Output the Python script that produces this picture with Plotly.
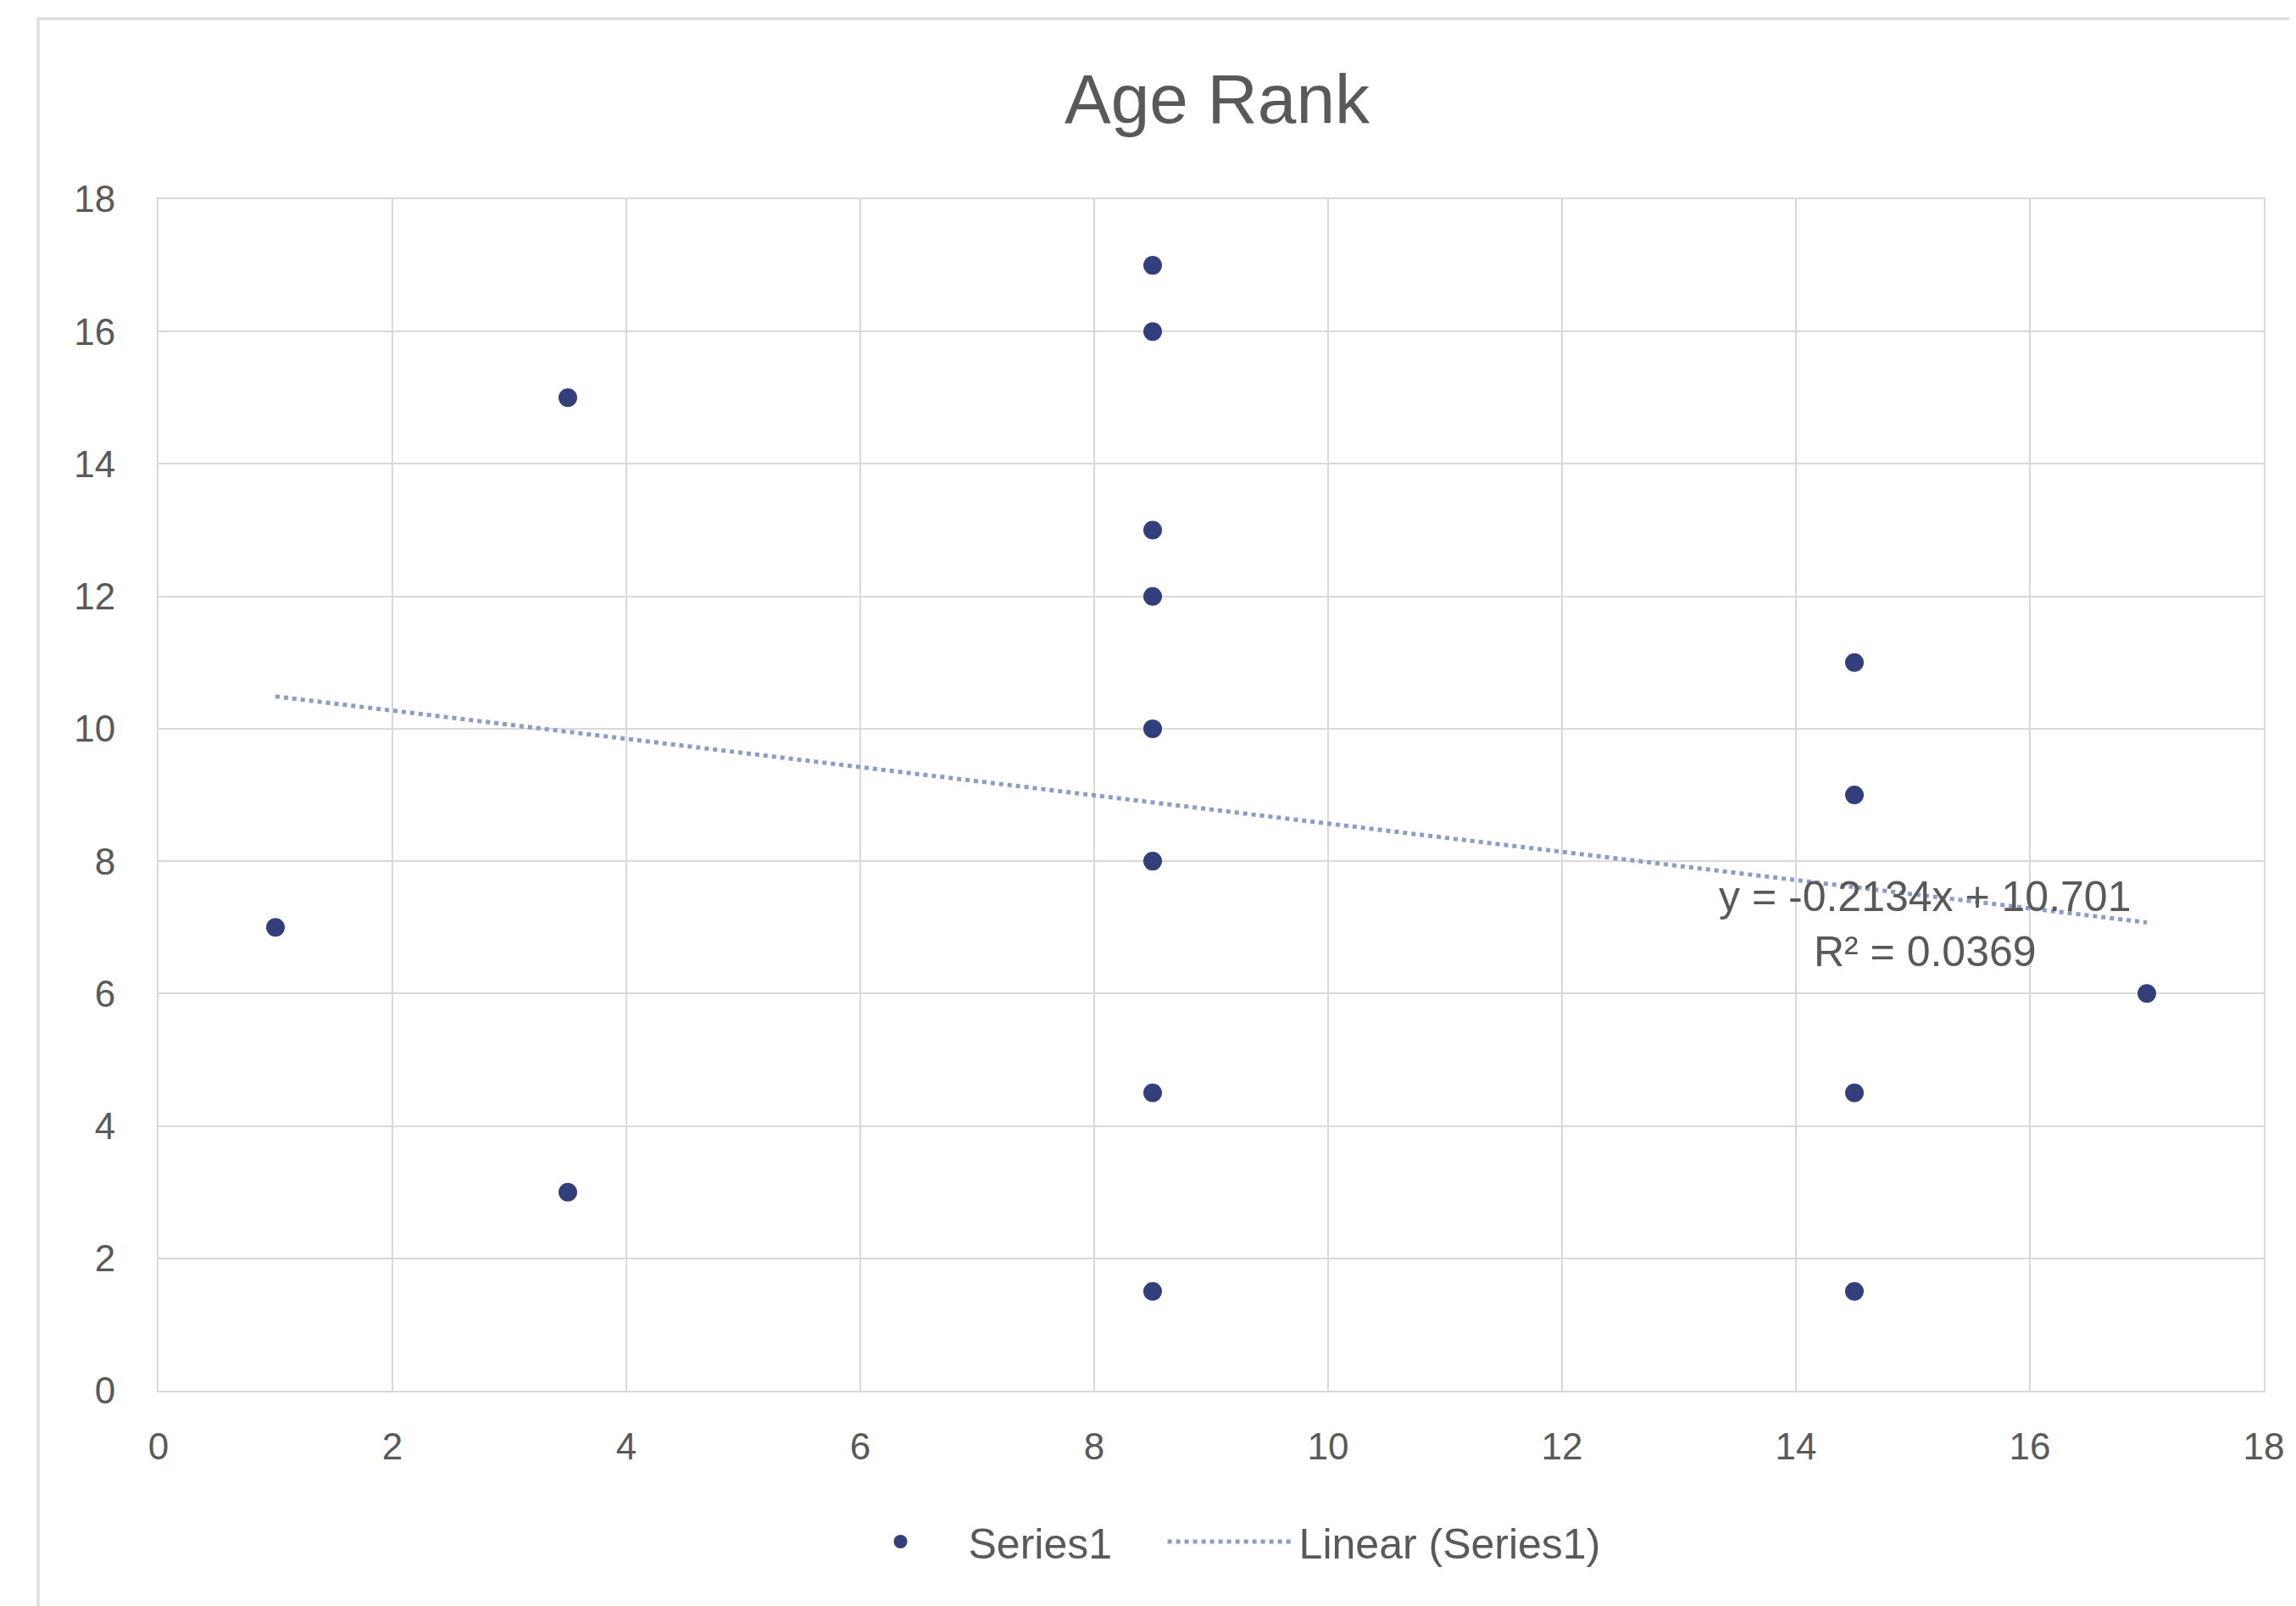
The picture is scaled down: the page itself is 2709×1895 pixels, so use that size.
import numpy as np
import plotly.graph_objects as go

# ---- data ----
x_rank = [1, 3.5, 3.5, 8.5, 8.5, 8.5, 8.5, 8.5, 8.5, 8.5, 8.5, 14.5, 14.5, 14.5, 14.5, 17]
y_rank = [7, 15, 3, 17, 16, 13, 12, 10, 8, 4.5, 1.5, 11, 9, 4.5, 1.5, 6]
series_name = "Series1"
trend_name = "Linear (Series1)"
title_text = "Age Rank"
x_ticks = list(range(0, 19, 2))
y_ticks = list(range(0, 19, 2))

# ---- linear trendline (least squares) ----
xa = np.array(x_rank, dtype=float)
ya = np.array(y_rank, dtype=float)
slope, intercept = np.polyfit(xa, ya, 1)
pred = slope * xa + intercept
r2 = 1 - np.sum((ya - pred) ** 2) / np.sum((ya - ya.mean()) ** 2)
tx = np.array([xa.min(), xa.max()])
ty = slope * tx + intercept
sign = "+" if intercept >= 0 else "-"
eq_text = f"y = {slope:.4f}x {sign} {abs(intercept):.3f}<br>R² = {r2:.4f}"

W, H = 2709, 1895
L, R, T, B = 179, 46, 227, 262
pw, ph = W - L - R, H - T - B

def px(xpix):
    return (xpix - L) / pw

def py(ypix):
    return (H - B - ypix) / ph

GRID = "#d9d9d9"
TXT = "#595959"
FONT = "Liberation Sans, Arial, sans-serif"
NB = "\u00a0"

fig = go.Figure()
fig.add_trace(go.Scatter(
    x=x_rank, y=y_rank, mode="markers", name=series_name + NB * 4,
    marker=dict(color="#333f7a", size=22, line=dict(width=0)),
))
fig.add_trace(go.Scatter(
    x=tx, y=ty, mode="lines", name=trend_name,
    line=dict(color="#8d9cc6", width=5, dash="dot"),
))

fig.add_annotation(
    x=15.1, y=7.05, xref="x", yref="y", text=eq_text, showarrow=False,
    font=dict(family=FONT, size=50, color=TXT), bgcolor="rgba(0,0,0,0)",
    align="center",
)

fig.add_shape(
    type="rect", xref="paper", yref="paper",
    x0=px(37), x1=px(2740), y0=py(1930), y1=py(14),
    line=dict(color=GRID, width=3), fillcolor="rgba(0,0,0,0)", layer="below",
)

fig.update_layout(
    width=W, height=H,
    margin=dict(l=L, r=R, t=T, b=B),
    paper_bgcolor="white", plot_bgcolor="white",
    title=dict(text=title_text, xref="container", x=1428 / W, xanchor="center",
               yref="container", y=1 - 108 / H, yanchor="middle",
               font=dict(family=FONT, size=82, color=TXT)),
    font=dict(family=FONT, size=44, color=TXT),
    showlegend=True,
    legend=dict(orientation="h", x=px(1430), xanchor="center",
                y=py(1811), yanchor="middle",
                font=dict(family=FONT, size=50, color=TXT),
                itemwidth=150, bgcolor="rgba(0,0,0,0)"),
    xaxis=dict(range=[0, 18], tickvals=x_ticks, showgrid=True, gridcolor=GRID,
               gridwidth=2, zeroline=False, showline=True, linecolor=GRID,
               linewidth=2, mirror=True, ticks="", ticklabelstandoff=26,
               tickfont=dict(family=FONT, size=44, color=TXT)),
    yaxis=dict(range=[0, 18], tickvals=y_ticks, showgrid=True, gridcolor=GRID,
               gridwidth=2, zeroline=False, showline=True, linecolor=GRID,
               linewidth=2, mirror=True, ticks="", ticklabelstandoff=40,
               tickfont=dict(family=FONT, size=44, color=TXT)),
)

fig.write_html("out.html")
